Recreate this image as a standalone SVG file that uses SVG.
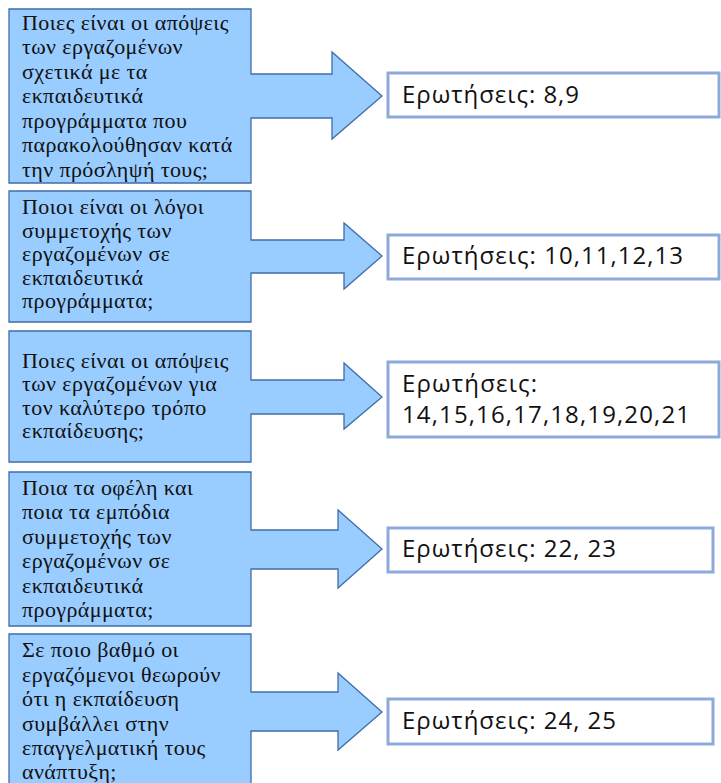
<svg xmlns="http://www.w3.org/2000/svg" width="721" height="783" viewBox="0 0 721 783">
  <style>
    .q { fill: #99ccff; stroke: #3f6ea6; stroke-width: 1.3; stroke-linejoin: miter; }
    .qt { font-family: "Liberation Serif", "Times New Roman", serif; font-size: 22px; letter-spacing: 0.4px; fill: #111; }
    .a { fill: #ffffff; stroke: #8eaadb; stroke-width: 3; }
    .at { font-family: "Open Sans", "Noto Sans", sans-serif; font-size: 24px; fill: #111; }
  </style>
  <rect width="721" height="783" fill="#ffffff"/>

  <!-- question callouts: box with a right-pointing arrow -->
  <g id="q1">
    <path class="q" d="M9,9 H251 V74 H332 V52 L382,96 L332,139 V118 H251 V183 H9 Z"/>
    <text class="qt" x="22" y="30">Ποιες είναι οι απόψεις</text>
    <text class="qt" x="22" y="54">των εργαζομένων</text>
    <text class="qt" x="22" y="79">σχετικά με τα</text>
    <text class="qt" x="22" y="103">εκπαιδευτικά</text>
    <text class="qt" x="22" y="128">προγράμματα που</text>
    <text class="qt" x="22" y="152">παρακολούθησαν κατά</text>
    <text class="qt" x="22" y="177">την πρόσληψή τους;</text>
  </g>
  <g id="q2">
    <path class="q" d="M9,191 H251 V240 H344 V223 L382,256 L344,289 V273 H251 V322 H9 Z"/>
    <text class="qt" x="22" y="214">Ποιοι είναι οι λόγοι</text>
    <text class="qt" x="22" y="238">συμμετοχής των</text>
    <text class="qt" x="22" y="261">εργαζομένων σε</text>
    <text class="qt" x="22" y="285">εκπαιδευτικά</text>
    <text class="qt" x="22" y="308">προγράμματα;</text>
  </g>
  <g id="q3">
    <path class="q" d="M9,331 H251 V380 H344 V363 L382,397 L344,429 V414 H251 V462 H9 Z"/>
    <text class="qt" x="22" y="368">Ποιες είναι οι απόψεις</text>
    <text class="qt" x="22" y="391">των εργαζομένων για</text>
    <text class="qt" x="22" y="415">τον καλύτερο τρόπο</text>
    <text class="qt" x="22" y="438">εκπαίδευσης;</text>
  </g>
  <g id="q4">
    <path class="q" d="M9,472 H251 V530 H338 V510 L382,549 L338,588 V569 H251 V626 H9 Z"/>
    <text class="qt" x="22" y="495">Ποια τα οφέλη και</text>
    <text class="qt" x="22" y="519">ποια τα εμπόδια</text>
    <text class="qt" x="22" y="544">συμμετοχής των</text>
    <text class="qt" x="22" y="568">εργαζομένων σε</text>
    <text class="qt" x="22" y="593">εκπαιδευτικά</text>
    <text class="qt" x="22" y="617">προγράμματα;</text>
  </g>
  <g id="q5">
    <path class="q" d="M9,634 H251 V692 H338 V673 L382,712 L338,750 V731 H251 V800 H9 Z"/>
    <text class="qt" x="22" y="657">Σε ποιο βαθμό οι</text>
    <text class="qt" x="22" y="682">εργαζόμενοι θεωρούν</text>
    <text class="qt" x="22" y="706">ότι η εκπαίδευση</text>
    <text class="qt" x="22" y="731">συμβάλλει στην</text>
    <text class="qt" x="22" y="755">επαγγελματική τους</text>
    <text class="qt" x="22" y="779">ανάπτυξη;</text>
  </g>

  <!-- answer boxes -->
  <g id="a1">
    <rect class="a" x="388" y="73" width="331" height="44"/>
    <text class="at" x="402" y="103" textLength="177" lengthAdjust="spacing">Ερωτήσεις: 8,9</text>
  </g>
  <g id="a2">
    <rect class="a" x="388" y="235" width="331" height="44"/>
    <text class="at" x="402" y="264" textLength="281" lengthAdjust="spacing">Ερωτήσεις: 10,11,12,13</text>
  </g>
  <g id="a3">
    <rect class="a" x="388" y="362" width="331" height="75"/>
    <text class="at" x="402" y="392" textLength="135" lengthAdjust="spacing">Ερωτήσεις:</text>
    <text class="at" x="402" y="423" textLength="288" lengthAdjust="spacing">14,15,16,17,18,19,20,21</text>
  </g>
  <g id="a4">
    <rect class="a" x="388" y="528" width="325" height="44"/>
    <text class="at" x="402" y="557" textLength="214" lengthAdjust="spacing">Ερωτήσεις: 22, 23</text>
  </g>
  <g id="a5">
    <rect class="a" x="388" y="699" width="325" height="45"/>
    <text class="at" x="402" y="729" textLength="214" lengthAdjust="spacing">Ερωτήσεις: 24, 25</text>
  </g>

  <!-- connectors: the arrows are part of each question callout -->
  <g id="connectors"></g>
</svg>
